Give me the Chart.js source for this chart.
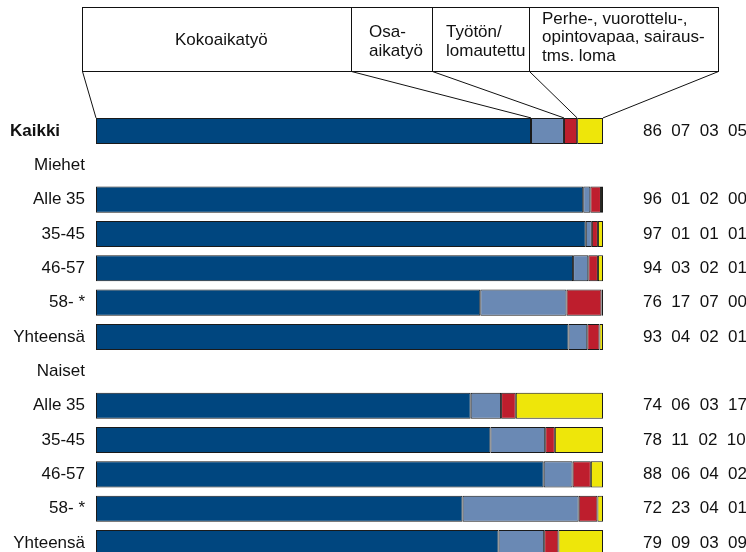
<!DOCTYPE html>
<html>
<head>
<meta charset="utf-8">
<script src="https://cdn.jsdelivr.net/npm/chart.js@4.4.0/dist/chart.umd.min.js"></script>
<style>
  html, body { margin: 0; padding: 0; background: #fff; overflow: hidden; }
  #wrap { width: 746px; height: 552px; overflow: hidden; }
</style>
</head>
<body>
<div id="wrap"><canvas id="chart" width="746" height="571"></canvas></div>
<script>
// Rows of the chart (Miehet / Naiset are group headers without a bar)
const rowLabels = ['Kaikki', 'Miehet', 'Alle 35', '35-45', '46-57', '58- *', 'Yhteensä',
                   'Naiset', 'Alle 35', '35-45', '46-57', '58- *', 'Yhteensä'];

// Shares (%)
const fullTime   = [85.8, null, 96.1, 96.6, 94.1, 75.8, 93.2, null, 73.9, 77.8, 88.3, 72.3, 79.4];
const partTime   = [6.5,  null, 1.4,  1.2,  3.0,  17.0, 3.7,  null, 6.0,  10.8, 5.7,  22.9, 9.0];
const unemployed = [2.6,  null, 2.1,  1.2,  1.9,  6.9,  2.4,  null, 2.9,  1.9,  3.6,  3.7,  2.8];
const onLeave    = [5.1,  null, 0.4,  1.0,  1.0,  0.3,  0.7,  null, 17.2, 9.5,  2.4,  1.1,  8.8];

// Numbers printed at the right of each bar
const shareLabels = ['86  07  03  05', '', '96  01  02  00', '97  01  01  01', '94  03  02  01',
                     '76  17  07  00', '93  04  02  01', '', '74  06  03  17', '78  11  02  10',
                     '88  06  04  02', '72  23  04  01', '79  09  03  09'];

const seriesNames = ['Kokoaikatyö', 'Osa-aikatyö', 'Työtön/lomautettu',
                     'Perhe-, vuorottelu-, opintovapaa, sairaus- tms. loma'];
const seriesColors = ['#00467f', '#6a89b4', '#be1e2d', '#eee60a'];

Chart.defaults.font.family = 'Arial, "Liberation Sans", sans-serif';
Chart.defaults.font.size = 17;
Chart.defaults.color = '#111';

// Boxes at the top with lines pointing at the segments of the Kaikki bar
const calloutPlugin = {
  id: 'callouts',
  afterDraw(chart) {
    const ctx = chart.ctx;
    const xs = chart.scales.x;
    const ys = chart.scales.y;
    const first = chart.getDatasetMeta(0).data[0];
    const barTop = first.y - first.height / 2;

    let sum = 0;
    const ends = [xs.getPixelForValue(0)];
    chart.data.datasets.forEach(ds => {
      sum += ds.data[0];
      ends.push(xs.getPixelForValue(sum));
    });

    const edges = [82.5, 351.5, 432.5, 529.5, 718.5];
    const top = 7.5, bottom = 71.5;

    ctx.save();
    ctx.strokeStyle = '#111';
    ctx.lineWidth = 1;
    ctx.strokeRect(edges[0], top, edges[4] - edges[0], bottom - top);
    ctx.beginPath();
    for (let i = 1; i < 4; i++) {
      ctx.moveTo(edges[i], top);
      ctx.lineTo(edges[i], bottom);
    }
    for (let i = 0; i < 5; i++) {
      ctx.moveTo(edges[i], bottom);
      ctx.lineTo(ends[i], barTop);
    }
    ctx.stroke();

    ctx.fillStyle = '#111';
    ctx.font = '17px Arial, "Liberation Sans", sans-serif';
    ctx.textBaseline = 'middle';
    ctx.textAlign = 'left';
    ctx.fillText(seriesNames[0], 175, 40);
    ctx.fillText('Osa-', 369, 32);
    ctx.fillText('aikatyö', 369, 51);
    ctx.fillText('Työtön/', 446, 32);
    ctx.fillText('lomautettu', 446, 51);
    ctx.fillText('Perhe-, vuorottelu-,', 542, 19);
    ctx.fillText('opintovapaa, sairaus-', 542, 37.5);
    ctx.fillText('tms. loma', 542, 56);

    // the first row label is bold and left aligned
    ctx.font = 'bold 17px Arial, "Liberation Sans", sans-serif';
    ctx.fillText(rowLabels[0], 10, ys.getPixelForValue(0));
    ctx.restore();
  }
};

const seriesData = [fullTime, partTime, unemployed, onLeave];

new Chart(document.getElementById('chart').getContext('2d'), {
  type: 'bar',
  data: {
    labels: rowLabels,
    datasets: seriesData.map((d, i) => ({
      label: seriesNames[i],
      data: d,
      backgroundColor: seriesColors[i],
      borderColor: '#1a1a1a',
      borderWidth: 1,
      borderSkipped: false,
      barPercentage: 0.76,
      categoryPercentage: 1
    }))
  },
  options: {
    indexAxis: 'y',
    responsive: false,
    animation: false,
    layout: { padding: { top: 113.8, bottom: 10.8, left: 0, right: 0 } },
    plugins: {
      legend: { display: false },
      tooltip: { enabled: false }
    },
    scales: {
      x: { stacked: true, min: 0, max: 100, display: false },
      y: {
        stacked: true,
        grid: { display: false, drawTicks: true, tickLength: 11 },
        border: { display: false },
        ticks: {
          autoSkip: false,
          padding: 0,
          callback: (v, i) => (i === 0 ? '' : rowLabels[i])
        },
        afterFit: s => { s.width = 96; }
      },
      y2: {
        type: 'category',
        axis: 'y',
        position: 'right',
        labels: shareLabels,
        offset: true,
        grid: { display: false, drawTicks: true, tickLength: 40 },
        border: { display: false },
        ticks: { autoSkip: false, padding: 0 },
        afterFit: s => { s.width = 143; }
      }
    }
  },
  plugins: [calloutPlugin]
});
</script>
</body>
</html>
